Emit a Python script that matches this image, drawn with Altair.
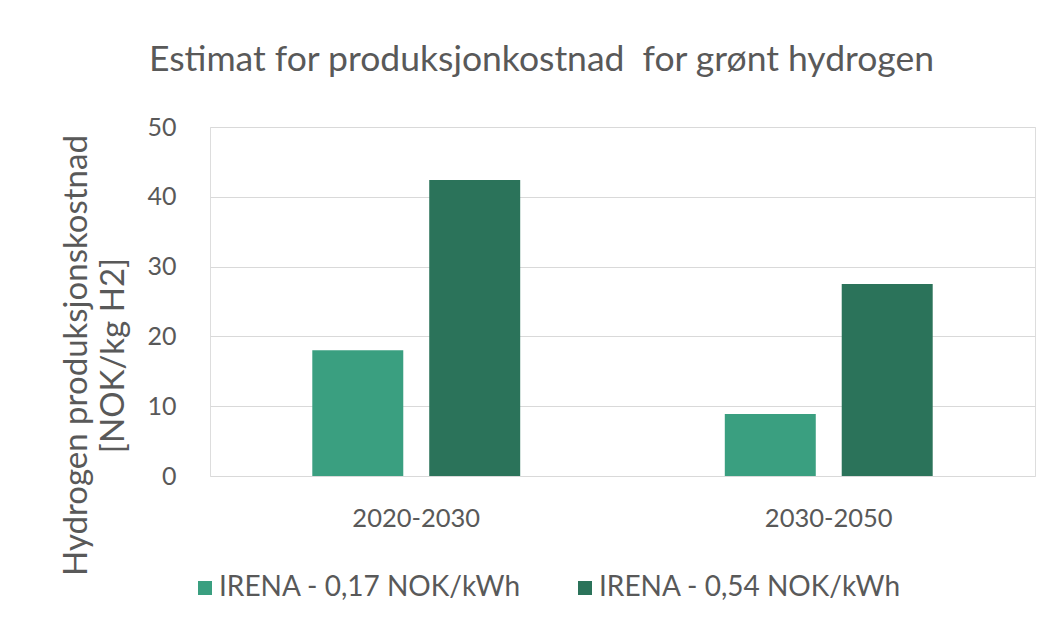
import altair as alt
import pandas as pd

categories = ["2020-2030", "2020-2030", "2030-2050", "2030-2050"]
series = ["IRENA - 0,17 NOK/kWh", "IRENA - 0,54 NOK/kWh",
          "IRENA - 0,17 NOK/kWh", "IRENA - 0,54 NOK/kWh"]
values = [18.0, 42.4, 8.9, 27.5]
series_order = ["IRENA - 0,17 NOK/kWh", "IRENA - 0,54 NOK/kWh"]
colors = ["#3a9f80", "#2b735a"]

df = pd.DataFrame({"periode": categories, "serie": series, "kostnad": values})

FONT = "Lato"
GREY = "#595959"

chart = alt.Chart(df).mark_bar().encode(
    x=alt.X("periode:N", title=None,
            scale=alt.Scale(paddingInner=0.496, paddingOuter=0.248),
            axis=alt.Axis(labelAngle=0, labelFontSize=25.5, labelColor=GREY, labelFont=FONT,
                          domain=False, ticks=False, labelPadding=30)),
    xOffset=alt.XOffset("serie:N", sort=series_order,
                        scale=alt.Scale(paddingInner=0.222, paddingOuter=0)),
    y=alt.Y("kostnad:Q", scale=alt.Scale(domain=[0, 50]),
            title=["Hydrogen produksjonskostnad", "[NOK/kg H2]"],
            axis=alt.Axis(values=[0, 10, 20, 30, 40, 50], domain=False, ticks=False,
                          labelFontSize=25, labelColor=GREY, labelFont=FONT, labelPadding=34,
                          gridColor="#d9d9d9", gridWidth=1,
                          titleFont=FONT, titleFontSize=33, titleFontWeight="normal",
                          titleColor=GREY, titleAngle=-90, titleAlign="center",
                          titleBaseline="bottom", titleX=-117, titleY=228,
                          titleLineHeight=37)),
    color=alt.Color("serie:N", sort=series_order,
                    scale=alt.Scale(domain=series_order, range=colors),
                    legend=alt.Legend(title=None, orient="none", direction="horizontal",
                                      legendX=-19, legendY=447, symbolType="square",
                                      symbolSize=196, symbolStrokeWidth=0,
                                      labelFontSize=28, labelColor=GREY, labelFont=FONT,
                                      labelLimit=600, labelOffset=0, columnPadding=50,
                                      symbolOffset=0)),
).properties(
    width=825,
    height=349,
    title=alt.TitleParams("Estimat for produksjonkostnad\u00a0 for grønt hydrogen",
                          font=FONT, fontSize=35.5, fontWeight="normal", color=GREY,
                          anchor="middle", dx=-81, offset=37),
    autosize=alt.AutoSizeParams(type="none"),
    padding={"left": 202, "top": 119, "right": 21, "bottom": 153},
).configure_view(stroke=None).configure(background="white")

chart.save("out.html", embed_options={"renderer": "svg", "actions": False})
